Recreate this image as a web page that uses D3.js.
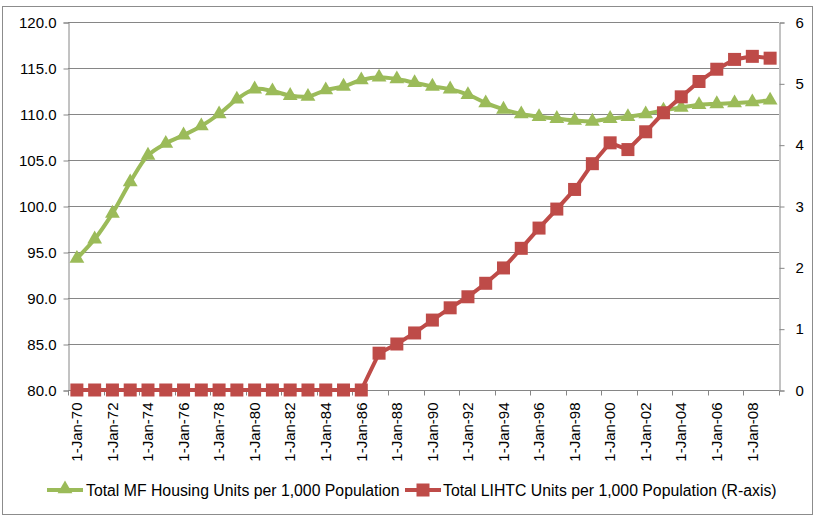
<!DOCTYPE html>
<html>
<head>
<meta charset="utf-8">
<script src="https://cdn.jsdelivr.net/npm/d3@7"></script>
<style>
  body { margin: 0; background: #fff; }
  svg text { font-family: "Liberation Sans", Arial, sans-serif; fill: #000; }
</style>
</head>
<body>
<div id="chart"></div>
<script>
// categories (Jan 1 of each year, 1970 - 2009)
const categories = [
  "1-Jan-70", "1-Jan-71", "1-Jan-72", "1-Jan-73", "1-Jan-74", "1-Jan-75", "1-Jan-76", "1-Jan-77", "1-Jan-78", "1-Jan-79",
  "1-Jan-80", "1-Jan-81", "1-Jan-82", "1-Jan-83", "1-Jan-84", "1-Jan-85", "1-Jan-86", "1-Jan-87", "1-Jan-88", "1-Jan-89",
  "1-Jan-90", "1-Jan-91", "1-Jan-92", "1-Jan-93", "1-Jan-94", "1-Jan-95", "1-Jan-96", "1-Jan-97", "1-Jan-98", "1-Jan-99",
  "1-Jan-00", "1-Jan-01", "1-Jan-02", "1-Jan-03", "1-Jan-04", "1-Jan-05", "1-Jan-06", "1-Jan-07", "1-Jan-08", "1-Jan-09"
];
// labels shown on the x axis (every other year)
const xTickLabels = [
  "1-Jan-70", "1-Jan-72", "1-Jan-74", "1-Jan-76", "1-Jan-78", "1-Jan-80", "1-Jan-82", "1-Jan-84", "1-Jan-86", "1-Jan-88",
  "1-Jan-90", "1-Jan-92", "1-Jan-94", "1-Jan-96", "1-Jan-98", "1-Jan-00", "1-Jan-02", "1-Jan-04", "1-Jan-06", "1-Jan-08"
];

// Total MF Housing Units per 1,000 Population (left axis)
const mfUnits = [
  94.3, 96.4, 99.2, 102.6, 105.5, 106.8, 107.7, 108.7, 110.0, 111.6,
  112.7, 112.5, 112.0, 111.9, 112.6, 113.0, 113.7, 114.0, 113.8, 113.4,
  113.0, 112.7, 112.1, 111.2, 110.5, 110.0, 109.7, 109.5, 109.3, 109.2,
  109.5, 109.7, 110.0, 110.4, 110.7, 111.0, 111.1, 111.2, 111.3, 111.5
];
// Total LIHTC Units per 1,000 Population (right axis)
const lihtcUnits = [
  0, 0, 0, 0, 0, 0, 0, 0, 0, 0,
  0, 0, 0, 0, 0, 0, 0, 0.60, 0.75, 0.93,
  1.14, 1.34, 1.52, 1.74, 1.99, 2.31, 2.64, 2.95, 3.27, 3.69,
  4.03, 3.92, 4.21, 4.52, 4.78, 5.03, 5.23, 5.39, 5.44, 5.41
];

const leftTicks = [80, 85, 90, 95, 100, 105, 110, 115, 120];
const rightTicks = [0, 1, 2, 3, 4, 5, 6];

const seriesNames = [
  "Total MF Housing Units per 1,000 Population",
  "Total LIHTC Units per 1,000 Population (R-axis)"
];

const W = 816, H = 518;
const plot = { left: 68, right: 779, top: 22, bottom: 390 };
const green = "#9BBB59", red = "#BE4B48", gridCol = "#868686";

const svg = d3.select("#chart").append("svg")
  .attr("width", W).attr("height", H);

// outer chart frame
svg.append("rect")
  .attr("x", 2.5).attr("y", 6.5)
  .attr("width", 810).attr("height", 508)
  .attr("fill", "#fff").attr("stroke", "#8c8c8c");

const x = d3.scaleBand()
  .domain(categories)
  .range([plot.left, plot.right])
  .paddingInner(0).paddingOuter(0);
const cx = d => x(d) + x.bandwidth() / 2;

const yL = d3.scaleLinear().domain([80, 120]).range([plot.bottom, plot.top]);
const yR = d3.scaleLinear().domain([0, 6]).range([plot.bottom, plot.top]);

// horizontal gridlines (left axis)
svg.append("g")
  .selectAll("line")
  .data(leftTicks)
  .join("line")
  .attr("x1", plot.left).attr("x2", plot.right)
  .attr("y1", d => Math.round(yL(d)) + 0.5).attr("y2", d => Math.round(yL(d)) + 0.5)
  .attr("stroke", gridCol).attr("stroke-width", 1);

// left axis
const leftAxis = svg.append("g")
  .attr("transform", `translate(${plot.left + 0.5},0.5)`)
  .call(d3.axisLeft(yL).tickValues(leftTicks).tickFormat(d3.format(".1f")).tickSize(5).tickPadding(7));
leftAxis.selectAll("text").style("font-size", "15px");

// right axis
const rightAxis = svg.append("g")
  .attr("transform", `translate(${plot.right + 0.5},0.5)`)
  .call(d3.axisRight(yR).tickValues(rightTicks).tickFormat(d3.format("d")).tickSize(5).tickPadding(11));
rightAxis.selectAll("text").style("font-size", "15px");

// bottom axis: labels at category centres, ticks at category boundaries
const bottomAxis = svg.append("g")
  .attr("transform", `translate(0,${plot.bottom + 0.5})`)
  .call(d3.axisBottom(x).tickValues(xTickLabels).tickSize(0).tickPadding(0));
bottomAxis.select(".domain").attr("d", `M${plot.left},0H${plot.right}`);
bottomAxis.selectAll("text")
  .style("font-size", "15px")
  .attr("text-anchor", "end")
  .attr("dy", "0.35em")
  .attr("transform", "translate(0,12) rotate(-90)")
  .attr("x", 0).attr("y", 0);
bottomAxis.append("g").selectAll("line")
  .data(xTickLabels.concat(["end"]))
  .join("line")
  .attr("x1", d => (d === "end" ? plot.right : Math.round(x(d))) + 0.5)
  .attr("x2", d => (d === "end" ? plot.right : Math.round(x(d))) + 0.5)
  .attr("y1", 0).attr("y2", 5)
  .attr("stroke", gridCol);

svg.selectAll(".domain, .tick line").attr("stroke", gridCol);

// MF series (smoothed line with triangles)
const mfLine = d3.line()
  .x((d, i) => cx(categories[i]))
  .y(d => yL(d))
  .curve(d3.curveCatmullRom.alpha(0.5));
svg.append("path")
  .datum(mfUnits)
  .attr("d", mfLine)
  .attr("fill", "none").attr("stroke", green).attr("stroke-width", 4);
svg.append("g").selectAll("path")
  .data(mfUnits)
  .join("path")
  .attr("d", d3.symbol(d3.symbolTriangle, 95))
  .attr("transform", (d, i) => `translate(${cx(categories[i])},${yL(d)})`)
  .attr("fill", green);

// LIHTC series (straight line with squares)
const lihtcLine = d3.line()
  .x((d, i) => cx(categories[i]))
  .y(d => yR(d));
svg.append("path")
  .datum(lihtcUnits)
  .attr("d", lihtcLine)
  .attr("fill", "none").attr("stroke", red).attr("stroke-width", 4);
svg.append("g").selectAll("rect")
  .data(lihtcUnits)
  .join("rect")
  .attr("x", (d, i) => cx(categories[i]) - 6.5)
  .attr("y", d => yR(d) - 6.5)
  .attr("width", 13).attr("height", 13)
  .attr("fill", red);

// legend
const legendY = 490;
const legend = svg.append("g");
const lg1 = legend.append("g").attr("transform", `translate(47,${legendY})`);
lg1.append("line").attr("x1", 0).attr("x2", 36).attr("y1", 0).attr("y2", 0)
  .attr("stroke", green).attr("stroke-width", 4);
lg1.append("path").attr("d", d3.symbol(d3.symbolTriangle, 95))
  .attr("transform", "translate(18,-1)").attr("fill", green);
lg1.append("text").attr("x", 39).attr("y", 0).attr("dy", "0.35em")
  .style("font-size", "15.8px").text(seriesNames[0]);

const lg2 = legend.append("g").attr("transform", `translate(405,${legendY})`);
lg2.append("line").attr("x1", 0).attr("x2", 36).attr("y1", 0).attr("y2", 0)
  .attr("stroke", red).attr("stroke-width", 4);
lg2.append("rect").attr("x", 11.5).attr("y", -6.5).attr("width", 13).attr("height", 13)
  .attr("fill", red);
lg2.append("text").attr("x", 38).attr("y", 0).attr("dy", "0.35em")
  .style("font-size", "15.8px").text(seriesNames[1]);
</script>
</body>
</html>
